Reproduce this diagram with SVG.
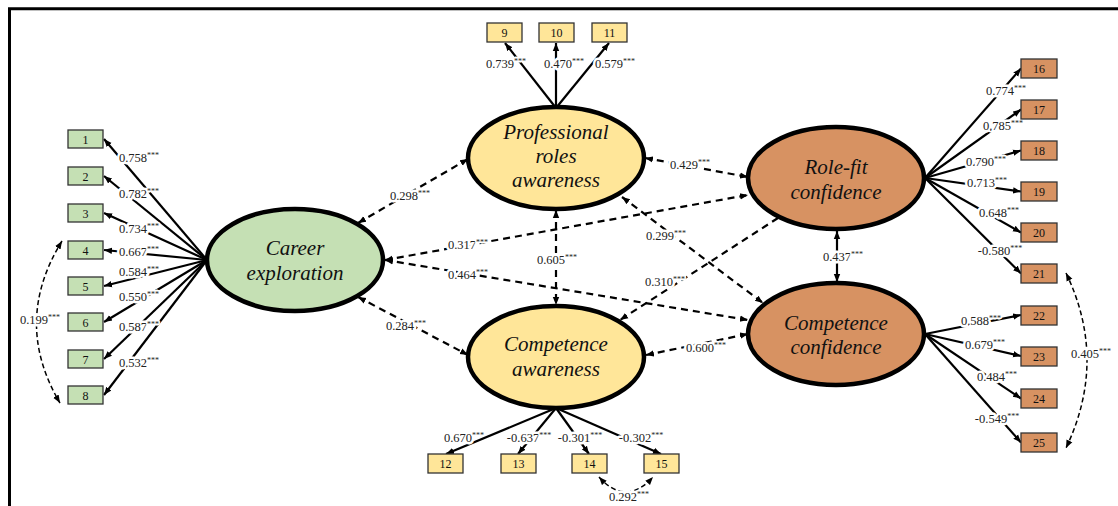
<svg xmlns="http://www.w3.org/2000/svg" width="1118" height="506" viewBox="0 0 1118 506">
<style>
.bg{fill:#fff}
.frame{stroke:#000;stroke-width:3;fill:none}
.ind{stroke:#000;stroke-width:2.2;fill:none}
.cor{stroke:#000;stroke-width:2.2;fill:none;stroke-dasharray:7 5}
.cov{stroke:#000;stroke-width:1.5;fill:none;stroke-dasharray:5 3}
.lat{stroke:#000;stroke-width:4.5}
.box{stroke:#333;stroke-width:1.3}
.g{fill:#c5e0b4}
.y{fill:#ffe699}
.o{fill:#d79262}
.nt{font-family:"Liberation Serif",serif;font-style:italic;font-size:21px;fill:#111;text-anchor:middle}
.bt{font-family:"Liberation Serif",serif;font-size:12px;fill:#111;text-anchor:middle}
.lb{font-family:"Liberation Serif",serif;font-size:12.5px;fill:#222;text-anchor:middle;stroke:#fff;stroke-width:5;paint-order:stroke;stroke-linejoin:round}
.st{font-size:8px;stroke-width:3}
</style>
<defs>
<marker id="ah" viewBox="0 0 10 10" refX="10" refY="5" markerWidth="8" markerHeight="8" markerUnits="userSpaceOnUse" orient="auto-start-reverse">
<path d="M0,1 L10,5 L0,9 z" fill="#000"/>
</marker>
</defs>
<rect class="bg" x="0" y="0" width="1118" height="506"/>
<path class="frame" d="M9.5,506 V8.8 H1118"/>

<g id="connectors">
<line class="ind" x1="207" y1="260" x2="104" y2="139" marker-end="url(#ah)"/>
<line class="ind" x1="207" y1="260" x2="104" y2="176" marker-end="url(#ah)"/>
<line class="ind" x1="207" y1="260" x2="104" y2="213" marker-end="url(#ah)"/>
<line class="ind" x1="207" y1="260" x2="104" y2="250" marker-end="url(#ah)"/>
<line class="ind" x1="207" y1="260" x2="104" y2="286" marker-end="url(#ah)"/>
<line class="ind" x1="207" y1="260" x2="104" y2="322" marker-end="url(#ah)"/>
<line class="ind" x1="207" y1="260" x2="104" y2="359" marker-end="url(#ah)"/>
<line class="ind" x1="207" y1="260" x2="104" y2="395" marker-end="url(#ah)"/>
<line class="ind" x1="556" y1="108" x2="505" y2="43" marker-end="url(#ah)"/>
<line class="ind" x1="556" y1="108" x2="556" y2="43" marker-end="url(#ah)"/>
<line class="ind" x1="556" y1="108" x2="609" y2="43" marker-end="url(#ah)"/>
<line class="ind" x1="925" y1="178" x2="1021" y2="68.5" marker-end="url(#ah)"/>
<line class="ind" x1="925" y1="178" x2="1021" y2="109.5" marker-end="url(#ah)"/>
<line class="ind" x1="925" y1="178" x2="1021" y2="150.5" marker-end="url(#ah)"/>
<line class="ind" x1="925" y1="178" x2="1021" y2="191.5" marker-end="url(#ah)"/>
<line class="ind" x1="925" y1="178" x2="1021" y2="232.5" marker-end="url(#ah)"/>
<line class="ind" x1="925" y1="178" x2="1021" y2="273.5" marker-end="url(#ah)"/>
<line class="ind" x1="925" y1="334" x2="1021" y2="315" marker-end="url(#ah)"/>
<line class="ind" x1="925" y1="334" x2="1021" y2="356" marker-end="url(#ah)"/>
<line class="ind" x1="925" y1="334" x2="1021" y2="398.5" marker-end="url(#ah)"/>
<line class="ind" x1="925" y1="334" x2="1021" y2="442.5" marker-end="url(#ah)"/>
<line class="ind" x1="556" y1="408" x2="446" y2="454" marker-end="url(#ah)"/>
<line class="ind" x1="556" y1="408" x2="518" y2="454" marker-end="url(#ah)"/>
<line class="ind" x1="556" y1="408" x2="589" y2="454" marker-end="url(#ah)"/>
<line class="ind" x1="556" y1="408" x2="661" y2="454" marker-end="url(#ah)"/>
<path class="cov" d="M62,241 Q12,322 60,403" marker-start="url(#ah)" marker-end="url(#ah)"/>
<path class="cov" d="M1066,273 Q1108,360 1066,448" marker-start="url(#ah)" marker-end="url(#ah)"/>
<path class="cov" d="M599,477 Q626,507 653,477" marker-start="url(#ah)" marker-end="url(#ah)"/>
<line class="cor" x1="358" y1="223" x2="468" y2="159" marker-start="url(#ah)" marker-end="url(#ah)"/>
<line class="cor" x1="358" y1="297" x2="468" y2="355" marker-start="url(#ah)" marker-end="url(#ah)"/>
<line class="cor" x1="385" y1="260" x2="748" y2="195" marker-start="url(#ah)" marker-end="url(#ah)"/>
<line class="cor" x1="385" y1="260" x2="748" y2="320" marker-start="url(#ah)" marker-end="url(#ah)"/>
<line class="cor" x1="645" y1="158" x2="748" y2="177" marker-start="url(#ah)" marker-end="url(#ah)"/>
<line class="cor" x1="556" y1="210" x2="556" y2="305" marker-start="url(#ah)" marker-end="url(#ah)"/>
<line class="cor" x1="622" y1="197" x2="763" y2="303" marker-start="url(#ah)" marker-end="url(#ah)"/>
<line class="cor" x1="778" y1="218" x2="620" y2="320" marker-end="url(#ah)"/>
<line class="cor" x1="646" y1="355" x2="748" y2="334" marker-start="url(#ah)" marker-end="url(#ah)"/>
<line class="ind" x1="837" y1="231" x2="837" y2="282" marker-start="url(#ah)" marker-end="url(#ah)"/>
</g>

<g id="labels">
<text class="lb" x="139" y="162">0.758<tspan class="st" dy="-4">***</tspan></text>
<text class="lb" x="139" y="198">0.782<tspan class="st" dy="-4">***</tspan></text>
<text class="lb" x="139" y="233">0.734<tspan class="st" dy="-4">***</tspan></text>
<text class="lb" x="139" y="256">0.667<tspan class="st" dy="-4">***</tspan></text>
<text class="lb" x="139" y="276">0.584<tspan class="st" dy="-4">***</tspan></text>
<text class="lb" x="139" y="301">0.550<tspan class="st" dy="-4">***</tspan></text>
<text class="lb" x="139" y="331">0.587<tspan class="st" dy="-4">***</tspan></text>
<text class="lb" x="139" y="367">0.532<tspan class="st" dy="-4">***</tspan></text>
<text class="lb" x="40" y="324">0.199<tspan class="st" dy="-4">***</tspan></text>

<text class="lb" x="506" y="68">0.739<tspan class="st" dy="-4">***</tspan></text>
<text class="lb" x="564" y="68">0.470<tspan class="st" dy="-4">***</tspan></text>
<text class="lb" x="615" y="68">0.579<tspan class="st" dy="-4">***</tspan></text>

<text class="lb" x="1006" y="95">0.774<tspan class="st" dy="-4">***</tspan></text>
<text class="lb" x="1003" y="130">0.785<tspan class="st" dy="-4">***</tspan></text>
<text class="lb" x="986" y="166">0.790<tspan class="st" dy="-4">***</tspan></text>
<text class="lb" x="987" y="187">0.713<tspan class="st" dy="-4">***</tspan></text>
<text class="lb" x="999" y="217">0.648<tspan class="st" dy="-4">***</tspan></text>
<text class="lb" x="1000" y="255">-0.580<tspan class="st" dy="-4">***</tspan></text>
<text class="lb" x="981" y="325">0.588<tspan class="st" dy="-4">***</tspan></text>
<text class="lb" x="985" y="349">0.679<tspan class="st" dy="-4">***</tspan></text>
<text class="lb" x="997" y="381">0.484<tspan class="st" dy="-4">***</tspan></text>
<text class="lb" x="997" y="423">-0.549<tspan class="st" dy="-4">***</tspan></text>
<text class="lb" x="1091" y="358">0.405<tspan class="st" dy="-4">***</tspan></text>

<text class="lb" x="464" y="442">0.670<tspan class="st" dy="-4">***</tspan></text>
<text class="lb" x="529" y="442">-0.637<tspan class="st" dy="-4">***</tspan></text>
<text class="lb" x="580" y="442">-0.301<tspan class="st" dy="-4">***</tspan></text>
<text class="lb" x="641" y="442">-0.302<tspan class="st" dy="-4">***</tspan></text>
<text class="lb" x="629" y="501">0.292<tspan class="st" dy="-4">***</tspan></text>

<text class="lb" x="410" y="200">0.298<tspan class="st" dy="-4">***</tspan></text>
<text class="lb" x="406" y="330">0.284<tspan class="st" dy="-4">***</tspan></text>
<text class="lb" x="468" y="249">0.317<tspan class="st" dy="-4">***</tspan></text>
<text class="lb" x="468" y="279">0.464<tspan class="st" dy="-4">***</tspan></text>
<text class="lb" x="690" y="169">0.429<tspan class="st" dy="-4">***</tspan></text>
<text class="lb" x="557" y="264">0.605<tspan class="st" dy="-4">***</tspan></text>
<text class="lb" x="666" y="240">0.299<tspan class="st" dy="-4">***</tspan></text>
<text class="lb" x="665" y="286">0.310<tspan class="st" dy="-4">***</tspan></text>
<text class="lb" x="706" y="352">0.600<tspan class="st" dy="-4">***</tspan></text>
<text class="lb" x="843" y="261">0.437<tspan class="st" dy="-4">***</tspan></text>
</g>

<g id="career-exploration">
<ellipse class="lat g" cx="295" cy="260" rx="88" ry="51"/>
<text class="nt" x="295" y="255">Career</text>
<text class="nt" x="295" y="280">exploration</text>
</g>
<g id="professional-roles-awareness">
<ellipse class="lat y" cx="556" cy="158" rx="88" ry="51"/>
<text class="nt" x="556" y="139">Professional</text>
<text class="nt" x="556" y="163">roles</text>
<text class="nt" x="556" y="187">awareness</text>
</g>
<g id="competence-awareness">
<ellipse class="lat y" cx="556" cy="357" rx="88" ry="51"/>
<text class="nt" x="556" y="351">Competence</text>
<text class="nt" x="556" y="376">awareness</text>
</g>
<g id="role-fit-confidence">
<ellipse class="lat o" cx="836" cy="178" rx="88" ry="51"/>
<text class="nt" x="836" y="174">Role-fit</text>
<text class="nt" x="836" y="199">confidence</text>
</g>
<g id="competence-confidence">
<ellipse class="lat o" cx="836" cy="334" rx="88" ry="51"/>
<text class="nt" x="836" y="330">Competence</text>
<text class="nt" x="836" y="354">confidence</text>
</g>

<g id="item-1"><rect class="box g" x="68" y="130" width="35" height="18"/><text class="bt" x="85.5" y="143.5">1</text></g>
<g id="item-2"><rect class="box g" x="68" y="167" width="35" height="18"/><text class="bt" x="85.5" y="180.5">2</text></g>
<g id="item-3"><rect class="box g" x="68" y="204" width="35" height="18"/><text class="bt" x="85.5" y="217.5">3</text></g>
<g id="item-4"><rect class="box g" x="68" y="241" width="35" height="18"/><text class="bt" x="85.5" y="254.5">4</text></g>
<g id="item-5"><rect class="box g" x="68" y="277" width="35" height="18"/><text class="bt" x="85.5" y="290.5">5</text></g>
<g id="item-6"><rect class="box g" x="68" y="313" width="35" height="18"/><text class="bt" x="85.5" y="326.5">6</text></g>
<g id="item-7"><rect class="box g" x="68" y="350" width="35" height="18"/><text class="bt" x="85.5" y="363.5">7</text></g>
<g id="item-8"><rect class="box g" x="68" y="386" width="35" height="18"/><text class="bt" x="85.5" y="399.5">8</text></g>

<g id="item-9"><rect class="box y" x="487" y="23" width="35" height="19"/><text class="bt" x="504.5" y="37">9</text></g>
<g id="item-10"><rect class="box y" x="539" y="23" width="35" height="19"/><text class="bt" x="556.5" y="37">10</text></g>
<g id="item-11"><rect class="box y" x="592" y="23" width="35" height="19"/><text class="bt" x="609.5" y="37">11</text></g>

<g id="item-12"><rect class="box y" x="428" y="454" width="35" height="19"/><text class="bt" x="445.5" y="468">12</text></g>
<g id="item-13"><rect class="box y" x="501" y="454" width="35" height="19"/><text class="bt" x="518.5" y="468">13</text></g>
<g id="item-14"><rect class="box y" x="572" y="454" width="35" height="19"/><text class="bt" x="589.5" y="468">14</text></g>
<g id="item-15"><rect class="box y" x="644" y="454" width="35" height="19"/><text class="bt" x="661.5" y="468">15</text></g>

<g id="item-16"><rect class="box o" x="1021" y="59" width="36" height="19"/><text class="bt" x="1039" y="73">16</text></g>
<g id="item-17"><rect class="box o" x="1021" y="100" width="36" height="19"/><text class="bt" x="1039" y="114">17</text></g>
<g id="item-18"><rect class="box o" x="1021" y="141" width="36" height="19"/><text class="bt" x="1039" y="155">18</text></g>
<g id="item-19"><rect class="box o" x="1021" y="182" width="36" height="19"/><text class="bt" x="1039" y="196">19</text></g>
<g id="item-20"><rect class="box o" x="1021" y="223" width="36" height="19"/><text class="bt" x="1039" y="237">20</text></g>
<g id="item-21"><rect class="box o" x="1021" y="264" width="36" height="19"/><text class="bt" x="1039" y="278">21</text></g>
<g id="item-22"><rect class="box o" x="1021" y="306" width="36" height="19"/><text class="bt" x="1039" y="320">22</text></g>
<g id="item-23"><rect class="box o" x="1021" y="347" width="36" height="19"/><text class="bt" x="1039" y="361">23</text></g>
<g id="item-24"><rect class="box o" x="1021" y="389" width="36" height="19"/><text class="bt" x="1039" y="403">24</text></g>
<g id="item-25"><rect class="box o" x="1021" y="433" width="36" height="19"/><text class="bt" x="1039" y="447">25</text></g>
</svg>
